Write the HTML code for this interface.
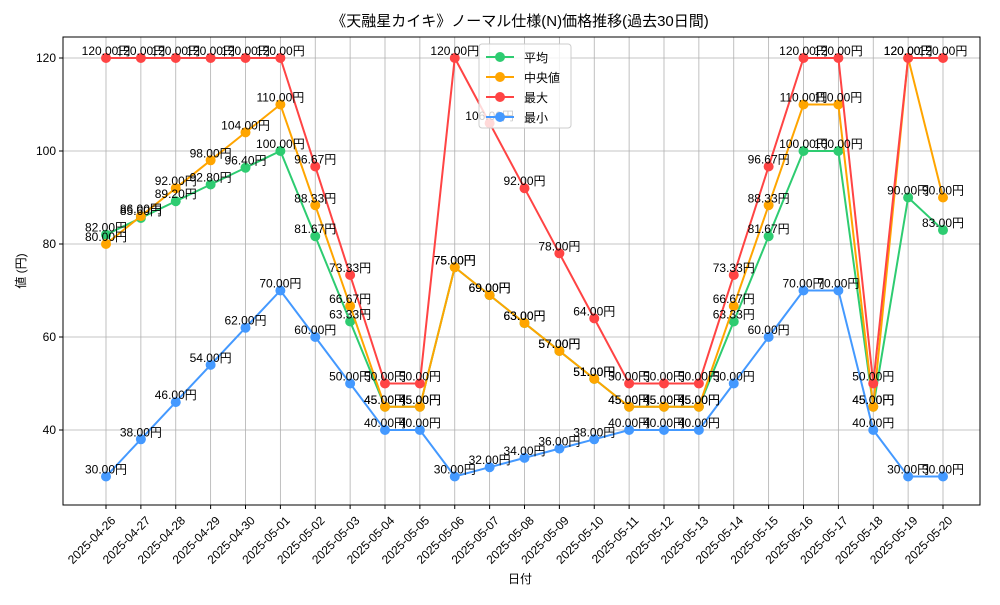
<!DOCTYPE html>
<html><head><meta charset="utf-8"><style>
body{margin:0;background:#fff}
svg text{font-family:"Liberation Sans","Noto Sans CJK JP",sans-serif;fill:#000}
</style></head><body>
<svg id="chart" width="1000" height="600" viewBox="0 0 1000 600" xmlns="http://www.w3.org/2000/svg">
<text x="520" y="26" text-anchor="middle" font-size="15">《天融星カイキ》ノーマル仕様(N)価格推移(過去30日間)</text>
<text x="520" y="583" text-anchor="middle" font-size="12">日付</text>
<text transform="translate(25,271) rotate(-90)" text-anchor="middle" font-size="12">値 (円)</text>
<g id="grid"></g><g id="axes"></g><g id="series"></g><g id="labels"></g><g id="legend"></g>
</svg>
<script>
const dates=["2025-04-26","2025-04-27","2025-04-28","2025-04-29","2025-04-30","2025-05-01","2025-05-02","2025-05-03","2025-05-04","2025-05-05","2025-05-06","2025-05-07","2025-05-08","2025-05-09","2025-05-10","2025-05-11","2025-05-12","2025-05-13","2025-05-14","2025-05-15","2025-05-16","2025-05-17","2025-05-18","2025-05-19","2025-05-20"];
const meanVals=[82,85.6,89.2,92.8,96.4,100,81.67,63.33,45,45,75,69,63,57,51,45,45,45,63.33,81.67,100,100,45,90,83];
const medianVals=[80,86,92,98,104,110,88.33,66.67,45,45,75,69,63,57,51,45,45,45,66.67,88.33,110,110,45,120,90];
const maxVals=[120,120,120,120,120,120,96.67,73.33,50,50,120,106,92,78,64,50,50,50,73.33,96.67,120,120,50,120,120];
const minVals=[30,38,46,54,62,70,60,50,40,40,30,32,34,36,38,40,40,40,50,60,70,70,40,30,30];
const yTicks=[40,60,80,100,120];
const seriesNames=["平均","中央値","最大","最小"];
const NS="http://www.w3.org/2000/svg";
const L=63,R=980,T=37,B=505;
const x=i=>106+i*(943-106)/(dates.length-1);
const y=v=>58+(120-v)*(430-58)/80;
function mk(tag,attrs,parent){const e=document.createElementNS(NS,tag);for(const k in attrs)e.setAttribute(k,attrs[k]);parent.appendChild(e);return e;}
const grid=document.getElementById('grid'),axes=document.getElementById('axes'),ser=document.getElementById('series'),lab=document.getElementById('labels'),leg=document.getElementById('legend');
dates.forEach((d,i)=>{
 const g=mk('line',{x1:x(i),x2:x(i),y1:T,y2:B,stroke:'#b0b0b0','stroke-width':0.8},grid);
 
 
 const tk=mk('line',{x1:x(i),x2:x(i),y1:B,y2:B+4,stroke:'#000'},axes);
 
 
 const t=mk('text',{transform:`translate(${x(i)+4},${B+10}) rotate(-45)`,'text-anchor':'end','font-size':12,'dominant-baseline':'hanging'},axes);
 t.textContent=d;
 
 
});
yTicks.forEach(v=>{
 const g=mk('line',{x1:L,x2:R,y1:y(v),y2:y(v),stroke:'#b0b0b0','stroke-width':0.8},grid);
 
 
 const tk=mk('line',{x1:L-4,x2:L,y1:y(v),y2:y(v),stroke:'#000'},axes);
 
 
 const t=mk('text',{x:L-7,y:y(v)+4,'text-anchor':'end','font-size':12},axes);
 t.textContent=v;
 
 
});
const frame=mk('rect',{x:L,y:T,width:R-L,height:B-T,fill:'none',stroke:'#000','stroke-width':1},axes);


const all=[meanVals,medianVals,maxVals,minVals];
const colors=['#2ecc71','#ffa500','#ff4444','#4499ff'];
const keys=['mean','median','max','min'];
all.forEach((vals,s)=>{
 const p=mk('polyline',{points:vals.map((v,i)=>x(i)+','+y(v)).join(' '),fill:'none',stroke:colors[s],'stroke-width':2},ser);
 
 
 vals.forEach((v,i)=>{
  const c=mk('circle',{cx:x(i),cy:y(v),r:5,fill:colors[s]},ser);
  
  
  const t=mk('text',{x:x(i),y:y(v)-3,'text-anchor':'middle','font-size':12},lab);
  t.textContent=v.toFixed(2)+'円';
  
  
 });
});
const lb=mk('rect',{x:479,y:44,width:92,height:84,fill:'#fff','fill-opacity':0.8,stroke:'#ccc',rx:3},leg);


seriesNames.forEach((n,s)=>{
 const yy=57+s*20;
 const ln=mk('line',{x1:486,x2:514,y1:yy,y2:yy,stroke:colors[s],'stroke-width':2},leg);
 
 
 const c=mk('circle',{cx:500,cy:yy,r:5,fill:colors[s]},leg);
 
 
 const t=mk('text',{x:524,y:yy+5,'font-size':12},leg);
 t.textContent=n;
 
 
});
</script>
</body></html>
